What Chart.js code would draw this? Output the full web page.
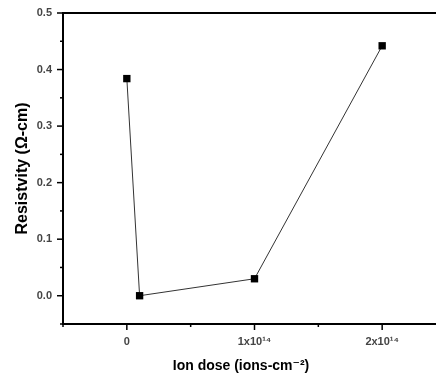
<!DOCTYPE html>
<html>
<head>
<meta charset="utf-8">
<script src="https://cdn.jsdelivr.net/npm/chart.js@4"></script>
<style>
  html, body { margin: 0; padding: 0; background: #fff; overflow: hidden; width: 436px; height: 378px; }
  #wrap { width: 482px; height: 378px; }
</style>
</head>
<body>
<div id="wrap"><canvas id="c" width="482" height="378"></canvas></div>
<script>
// Data
const ionDose = [0, 1e13, 1e14, 2e14];            // ions-cm^-2
const resistivity = [0.384, 0.0, 0.030, 0.442];   // Ω-cm
const xTickLabels = { 0: '0', 1: '1x10¹⁴', 2: '2x10¹⁴' };
const xTitle = 'Ion dose (ions-cm⁻²)';
const yTitle = 'Resistvity (Ω-cm)';

const points = ionDose.map((x, i) => ({ x: x, y: resistivity[i] }));
const FONT = 'Liberation Sans, DejaVu Sans, Arial, sans-serif';

const tickMarks = {
  id: 'tickMarks',
  afterDraw(chart) {
    const ctx = chart.ctx, ca = chart.chartArea;
    ctx.save();
    ctx.strokeStyle = '#000';
    ctx.lineWidth = 1.5;
    const xs = chart.scales.x, ys = chart.scales.y;
    xs.ticks.forEach(t => {
      const px = xs.getPixelForValue(t.value);
      const major = Math.abs(Math.round(t.value / 5e13)) % 2 === 0;
      const len = major ? 6 : 3;
      ctx.beginPath(); ctx.moveTo(px, ca.bottom); ctx.lineTo(px, ca.bottom + len); ctx.stroke();
    });
    ys.ticks.forEach(t => {
      const py = ys.getPixelForValue(t.value);
      const major = Math.abs(Math.round(t.value * 20)) % 2 === 0;
      const len = major ? 6 : 3;
      ctx.beginPath(); ctx.moveTo(ca.left, py); ctx.lineTo(ca.left - len, py); ctx.stroke();
    });
    // top frame line
    ctx.lineWidth = 2;
    ctx.beginPath(); ctx.moveTo(ca.left - 1, ca.top); ctx.lineTo(ca.right, ca.top); ctx.stroke();
    ctx.restore();
  }
};

new Chart(document.getElementById('c'), {
  type: 'scatter',
  data: {
    datasets: [{
      data: points,
      showLine: true,
      borderColor: '#333',
      borderWidth: 1,
      pointStyle: 'rect',
      pointRadius: 5.2,
      pointHoverRadius: 5.2,
      pointBackgroundColor: '#000',
      pointBorderColor: '#000',
      pointBorderWidth: 0
    }]
  },
  options: {
    responsive: false,
    animation: false,
    events: [],
    layout: { padding: { top: 13, right: 0, left: 0, bottom: 0 } },
    plugins: {
      legend: { display: false },
      tooltip: { enabled: false },
      title: {
        display: true,
        position: 'bottom',
        text: xTitle,
        color: '#000',
        font: { family: FONT, size: 14, weight: 'bold' },
        padding: { top: 4, bottom: 3 }
      }
    },
    scales: {
      x: {
        type: 'linear',
        min: -0.5e14,
        max: 2.5e14,
        afterFit: s => { s.height = 30.2; },
        ticks: {
          stepSize: 0.5e14,
          autoSkip: false,
          maxRotation: 0,
          padding: 5,
          color: '#444',
          font: { family: FONT, size: 11, weight: 'bold' },
          callback: v => {
            const k = Math.round(v / 1e14 * 2);
            return (k % 2 === 0 && k >= 0) ? (xTickLabels[k / 2] || '') : '';
          }
        },
        grid: { display: true, drawOnChartArea: false, drawTicks: true, tickLength: 6, color: 'rgba(0,0,0,0)' },
        border: { display: true, color: '#000', width: 2 }
      },
      y: {
        type: 'linear',
        min: -0.05,
        max: 0.5,
        afterFit: s => { s.width = 63; },
        ticks: {
          stepSize: 0.05,
          autoSkip: false,
          padding: 5,
          color: '#444',
          font: { family: FONT, size: 11, weight: 'bold' },
          callback: v => {
            const k = Math.round(v * 20);
            return (k % 2 === 0) ? (k / 20).toFixed(1) : '';
          }
        },
        title: {
          display: true,
          text: yTitle,
          color: '#000',
          font: { family: FONT, size: 16, weight: 'bold' },
          padding: { top: 13, bottom: 0 }
        },
        grid: { display: true, drawOnChartArea: false, drawTicks: true, tickLength: 6, color: 'rgba(0,0,0,0)' },
        border: { display: true, color: '#000', width: 2 }
      },
      yRight: {
        type: 'linear',
        axis: 'y',
        position: 'right',
        display: true,
        afterFit: s => { s.width = 36; },
        ticks: { display: false },
        grid: { display: false, drawTicks: false },
        border: { display: false }
      }
    }
  },
  plugins: [tickMarks]
});
</script>
</body>
</html>
